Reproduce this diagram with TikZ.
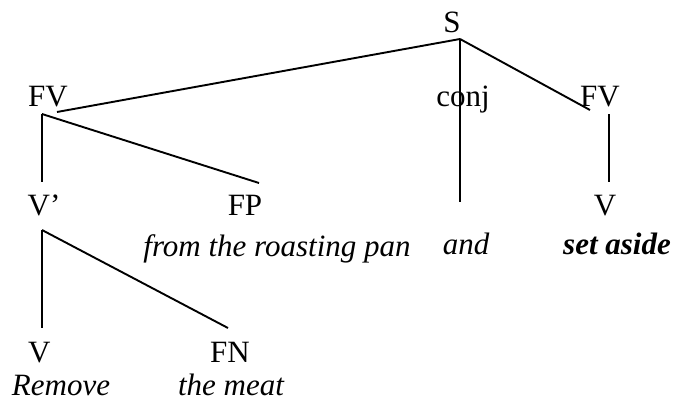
\documentclass[tikz,border=0pt]{standalone}
\usepackage{fontspec}
\setmainfont{Liberation Serif}
\begin{document}
\begin{tikzpicture}[x=1pt,y=-1pt,
  lbl/.style={inner sep=0pt, anchor=base, font=\fontsize{31}{31}\selectfont},
  itl/.style={lbl, font=\fontsize{31}{31}\selectfont\itshape},
  bitl/.style={lbl, font=\fontsize{31}{31}\selectfont\bfseries\itshape},
  branch/.style={line width=1.9pt, line cap=butt}]
\useasboundingbox (0,0) rectangle (675,402);
% labels
\node[lbl] (S) at (452,32) {S};
\node[lbl, anchor=base west] (FVl) at (28,106) {FV};
\node[lbl] (conj) at (463,106) {conj};
\node[lbl] (FVr) at (600,106) {FV};
\node[lbl, anchor=base west] (Vp) at (27.5,215) {V’};
\node[lbl] (FP) at (245,215) {FP};
\node[lbl] (Vr) at (605,215) {V};
\node[itl] (from) at (277,256) {from the roasting pan};
\node[itl] (and) at (466,254) {and};
\node[bitl] (set) at (617,254) {set aside};
\node[lbl, anchor=base west] (Vb) at (28,362) {V};
\node[lbl] (FN) at (230,362) {FN};
\node[itl, text depth=0pt] (remove) at (61,395) {Remove};
\node[itl, text depth=0pt] (meat) at (231,395) {the meat};
% junction points
\coordinate (s0) at (460,39);
\coordinate (fvlTop) at (57,112);
\coordinate (fvrTop) at (590,110);
\coordinate (conjEnd) at (460,202);
\coordinate (fvlj) at (42,114);
\coordinate (vpTop) at (42,182);
\coordinate (fpTop) at (259,183);
\coordinate (vpj) at (42,230);
\coordinate (vbTop) at (42,328);
\coordinate (fnTop) at (228,328);
\coordinate (fvrj) at (609,114);
\coordinate (vrTop) at (609,182);
% branches
\draw[branch] (s0) -- (fvlTop);
\draw[branch] (s0) -- (conjEnd);
\draw[branch] (s0) -- (fvrTop);
\draw[branch] (fvlj) -- (vpTop);
\draw[branch] (fvlj) -- (fpTop);
\draw[branch] (vpj) -- (vbTop);
\draw[branch] (vpj) -- (fnTop);
\draw[branch] (fvrj) -- (vrTop);
\end{tikzpicture}
\end{document}
